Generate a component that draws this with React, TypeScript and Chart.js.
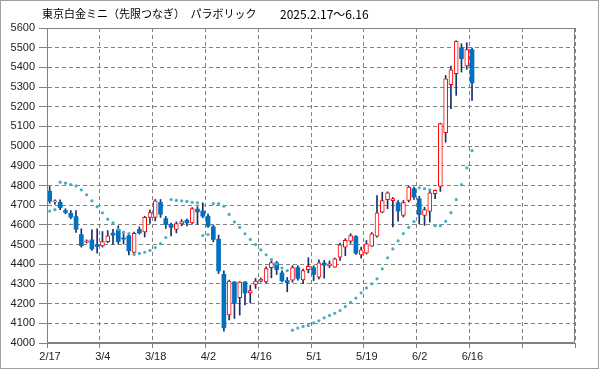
import React, { useEffect, useRef } from "react";
import { Chart, registerables } from "chart.js";

Chart.register(...registerables);

const TITLE_NAME = "東京白金ミニ（先限つなぎ）　パラボリック";
const TITLE_PERIOD = "2025.2.17～6.16";
const X_TICK_LABELS = ["2/17", "3/4", "3/18", "4/2", "4/16", "5/1", "5/19", "6/2", "6/16", "", ""];
const SLOTS_PER_TICK = 10;
const Y_MIN = 4000;
const Y_MAX = 5600;
const Y_STEP = 100;

const OPEN = [
  4771, 4717, 4715, 4673, 4659, 4642, 4551, 4512, 4524, 4500,
  4493, 4515, 4558, 4576, 4534, 4545, 4460, 4577, 4564, 4638,
  4638, 4714, 4632, 4603, 4577, 4605, 4624, 4610, 4680, 4670,
  4644, 4590, 4527, 4349, 4142, 4310, 4230, 4310, 4255, 4297,
  4314, 4310, 4382, 4407, 4356, 4317, 4319, 4383, 4321, 4372,
  4382, 4334, 4407, 4392, 4385, 4436, 4487, 4517, 4541, 4448,
  4456, 4492, 4542, 4665, 4728, 4723, 4713, 4648, 4724, 4784,
  4733, 4648, 4668, 4758, 4795, 5068, 5312, 5368, 5500, 5407,
  5490,
];
const HIGH = [
  4795, 4727, 4727, 4682, 4673, 4673, 4580, 4524, 4575, 4580,
  4566, 4571, 4578, 4595, 4555, 4552, 4564, 4590, 4644, 4675,
  4729, 4729, 4643, 4609, 4615, 4627, 4629, 4688, 4692, 4712,
  4655, 4600, 4548, 4366, 4319, 4312, 4312, 4312, 4294, 4328,
  4330, 4387, 4419, 4415, 4366, 4333, 4393, 4393, 4375, 4433,
  4392, 4422, 4420, 4417, 4432, 4507, 4530, 4555, 4545, 4487,
  4521, 4561, 4749, 4766, 4768, 4739, 4724, 4724, 4797, 4792,
  4745, 4690, 4780, 4777, 5117, 5359, 5407, 5535, 5520, 5525,
  5498,
];
const LOW = [
  4710, 4705, 4677, 4656, 4631, 4562, 4487, 4508, 4470, 4456,
  4487, 4510, 4502, 4503, 4503, 4448, 4455, 4553, 4539, 4607,
  4620, 4638, 4582, 4544, 4559, 4595, 4595, 4604, 4602, 4636,
  4587, 4514, 4353, 4060, 4117, 4125, 4142, 4193, 4203, 4277,
  4310, 4305, 4331, 4348, 4310, 4260, 4309, 4319, 4301, 4356,
  4317, 4326, 4329, 4383, 4385, 4419, 4444, 4507, 4450, 4431,
  4452, 4490, 4537, 4661, 4682, 4589, 4619, 4640, 4716, 4729,
  4606, 4597, 4614, 4733, 4770, 5020, 5190, 5258, 5376, 5390,
  5232,
];
const CLOSE = [
  4720, 4722, 4687, 4663, 4639, 4578, 4495, 4519, 4478, 4490,
  4515, 4544, 4548, 4515, 4528, 4468, 4557, 4559, 4638, 4663,
  4722, 4654, 4602, 4587, 4607, 4617, 4610, 4683, 4666, 4644,
  4593, 4526, 4366, 4077, 4314, 4201, 4310, 4254, 4266, 4314,
  4324, 4378, 4409, 4373, 4316, 4307, 4383, 4328, 4368, 4389,
  4348, 4407, 4395, 4402, 4428, 4499, 4521, 4546, 4456, 4473,
  4504, 4555, 4661, 4724, 4763, 4733, 4670, 4713, 4792, 4741,
  4652, 4678, 4763, 4775, 5114, 5342, 5388, 5532, 5444, 5490,
  5321,
];
const SAR = [
  4670, 4677, 4817, 4812, 4805, 4798, 4778, 4753, 4722, 4692,
  4661, 4629, 4610, 4576, 4563, 4556, 4450, 4455, 4461, 4470,
  4485, 4505, 4536, 4729, 4724, 4722, 4719, 4715, 4712, 4546,
  4551, 4708, 4708, 4695, 4653, 4615, 4587, 4555, 4526, 4500,
  4473, 4448, 4424, 4402, 4381, 4368, 4065, 4076, 4084, 4089,
  4102, 4113, 4128, 4140, 4151, 4165, 4185, 4206, 4228, 4255,
  4280, 4301, 4326, 4377, 4433, 4478, 4519, 4556, 4587, 4617,
  4788, 4784, 4778, 4596, 4596, 4618, 4662, 4728, 4804, 4890,
  4977,
];

const GRID = "#808080";
const UP_EDGE = "#ff0000";
const DOWN_FILL = "#0070c0";
const WICK = "#1b2f66";
const SAR_COLOR = "#4bacc6";

const framePlugin = {
  id: "frame",
  beforeDraw(chart: any) {
    const c = chart.ctx;
    c.save();
    c.fillStyle = "#ffffff";
    c.fillRect(0, 0, chart.width, chart.height);
    c.restore();
  },
  afterDraw(chart: any) {
    const c = chart.ctx;
    const a = chart.chartArea;
    c.save();
    c.strokeStyle = GRID;
    c.lineWidth = 1;
    c.setLineDash([]);
    const l = Math.round(a.left) + 0.5;
    const t = Math.round(a.top) + 0.5;
    const r = Math.round(a.right) - 0.5;
    const b = Math.round(a.bottom) - 0.5;
    c.strokeRect(l, t, r - l, b - t);
    c.strokeStyle = "#a0a0a0";
    c.strokeRect(0.5, 0.5, chart.width - 1, chart.height - 1);
    c.fillStyle = "#000000";
    c.textBaseline = "middle";
    c.textAlign = "left";
    c.font = '11px "Noto Sans CJK JP"';
    c.fillText(TITLE_NAME, 42, 14);
    c.font = '12px "Noto Sans CJK JP"';
    c.fillText(TITLE_PERIOD, 280, 14);
    c.restore();
  },
};

export default function App() {
  const ref = useRef<HTMLCanvasElement | null>(null);

  useEffect(() => {
    document.body.style.margin = "0";
    if (!ref.current) return;
    const idx = OPEN.map((_, i) => i);
    const up = idx.map((i) => CLOSE[i] >= OPEN[i]);
    const tickFont = { family: '"Liberation Sans", Arial, sans-serif', size: 11 };

    const chart = new Chart(ref.current, {
      type: "bar",
      data: {
        datasets: [
          {
            type: "line",
            label: "SAR",
            data: idx.map((i) => ({ x: i, y: SAR[i] })),
            showLine: false,
            pointRadius: 1.6,
            pointBorderWidth: 0,
            pointBackgroundColor: SAR_COLOR,
            pointBorderColor: SAR_COLOR,
            order: 0,
          } as any,
          {
            label: "body",
            data: idx.map((i) => ({ x: i, y: [OPEN[i], CLOSE[i]] })) as any,
            backgroundColor: idx.map((i) => (up[i] ? "#ffffff" : DOWN_FILL)),
            borderColor: idx.map((i) => (up[i] ? UP_EDGE : DOWN_FILL)),
            borderWidth: idx.map((i) => (up[i] ? 1 : 0)) as any,
            borderSkipped: false,
            barThickness: 4,
            grouped: false,
            order: 1,
          } as any,
          {
            label: "wick",
            data: idx.map((i) => ({ x: i, y: [LOW[i], HIGH[i]] })) as any,
            backgroundColor: WICK,
            borderWidth: 0,
            barThickness: 1,
            grouped: false,
            order: 2,
          } as any,
        ],
      },
      options: {
        responsive: false,
        animation: false,
        events: [],
        layout: { padding: { top: 28, right: 24, left: 0, bottom: 0 } },
        plugins: { legend: { display: false }, tooltip: { enabled: false }, title: { display: false } },
        scales: {
          x: {
            type: "linear",
            min: -0.5,
            max: SLOTS_PER_TICK * (X_TICK_LABELS.length - 1) - 0.5,
            offset: false,
            afterBuildTicks: (s: any) => {
              s.ticks = X_TICK_LABELS.map((_, k) => ({ value: -0.5 + SLOTS_PER_TICK * k }));
            },
            afterFit: (s: any) => {
              s.height = 26;
            },
            ticks: {
              autoSkip: false,
              maxRotation: 0,
              minRotation: 0,
              labelOffset: 3,
              padding: 2,
              color: "#222",
              font: tickFont,
              callback: (_v: any, i: number) => X_TICK_LABELS[i],
            },
            grid: { offset: false, color: GRID, lineWidth: 1, tickLength: 5, tickBorderDash: [], tickColor: GRID },
            border: { display: true, color: GRID, dash: [4, 3] },
          },
          y: {
            min: Y_MIN,
            max: Y_MAX,
            afterFit: (s: any) => {
              s.width = 47;
            },
            ticks: {
              stepSize: Y_STEP,
              padding: 4,
              color: "#222",
              font: tickFont,
              callback: (v: any) => String(v),
            },
            grid: { color: GRID, lineWidth: 1, tickLength: 8, tickBorderDash: [], tickColor: GRID },
            border: { display: true, color: GRID, dash: [4, 3] },
          },
        },
      } as any,
      plugins: [framePlugin],
    });
    return () => chart.destroy();
  }, []);

  return (
    <div style={{ width: 599, height: 369 }}>
      <canvas ref={ref} width={599} height={369} style={{ display: "block" }} />
    </div>
  );
}
